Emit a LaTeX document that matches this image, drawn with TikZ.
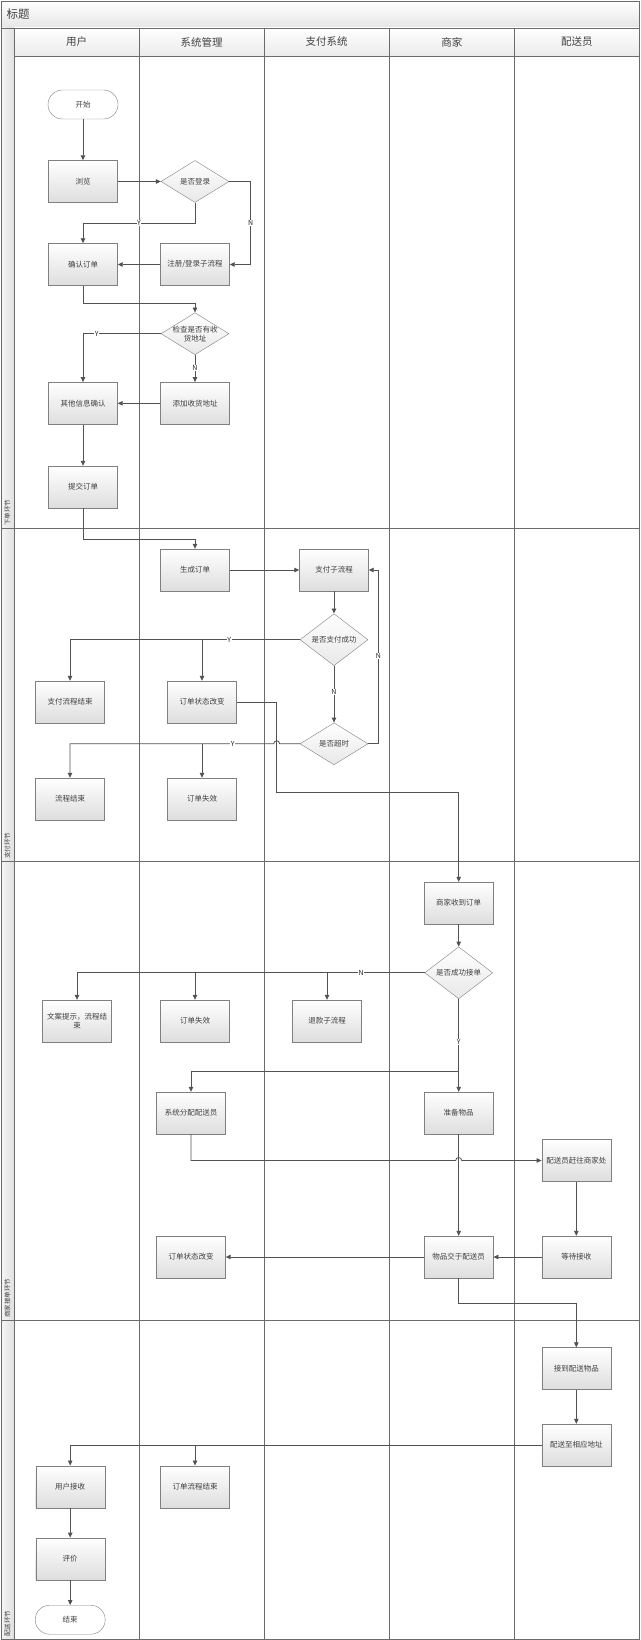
\documentclass[tikz,border=0pt]{standalone}
\usepackage{fontspec}
\setmainfont{Noto Sans CJK SC}
\usetikzlibrary{shapes.geometric,shadows,arrows.meta}

\begin{document}
\begin{tikzpicture}
[x=1pt, y=-1pt,
 every node/.style = {text=textcolor},
 box/.style      = {draw=boxcolor, top color=white, bottom color=fillcolor,
   minimum width=69pt, minimum height=42pt, inner sep=1pt, align=center,
   font=\fontsize{7.5}{9.5}\selectfont,
   drop shadow={shadow xshift=.8pt, shadow yshift=-.8pt, opacity=.25}},
 decide/.style   = {diamond, draw=boxcolor, top color=white, bottom color=diamcolor,
   minimum width=68pt, minimum height=42pt, inner sep=0pt, align=center,
   font=\fontsize{7.5}{9}\selectfont},
 terminal/.style = {draw=boxcolor, rounded corners=14.5pt, fill=white,
   minimum width=70pt, minimum height=29pt, font=\fontsize{7.5}{9}\selectfont},
 flow/.style     = {draw=linecolor, line width=.8pt, -{Triangle[length=5pt,width=4.5pt]}},
 yn/.style       = {fill=white, inner sep=.5pt, text=black!85, font=\fontsize{7}{7}\selectfont},
 lane/.style     = {draw=framecolor, line width=.8pt},
 header/.style   = {font=\fontsize{10.5}{11}\selectfont},
 band/.style     = {rotate=90, anchor=west, inner sep=0pt, font=\fontsize{6.5}{7}\selectfont},
]

% Define colors
\colorlet{textcolor}{black!75}
\colorlet{boxcolor}{black!50}
\colorlet{fillcolor}{black!13}
\colorlet{diamcolor}{black!9}
\colorlet{linecolor}{black!68}
\colorlet{framecolor}{black!58}

\useasboundingbox (0,0) rectangle (640,1640);

%%%%%%%%%%% FRAME
\path[top color=white, bottom color=black!10] (1,1) rectangle (639,28);
\path[top color=white, bottom color=black!8] (14,28) rectangle (639,56);
\path[left color=black!4, right color=black!12] (1,28) rectangle (14,1639);

\draw[lane] (1,1) rectangle (639,1639);
\draw[lane] (1,28) -- (639,28);
\draw[lane] (14,56) -- (639,56);
\draw[lane] (14,28) -- (14,1639);
\draw[lane] (139,28) -- (139,1639);
\draw[lane] (264,28) -- (264,1639);
\draw[lane] (389,28) -- (389,1639);
\draw[lane] (514.6,28) -- (514.6,1639);
\draw[lane] (1,528) -- (639,528);
\draw[lane] (1,861) -- (639,861);
\draw[lane] (1,1320) -- (639,1320);

\node[anchor=west, font=\fontsize{11.5}{12}\selectfont] (title) at (3,14.5) {标题};
\node[header] (hdruser)  at (76.5,42) {用户};
\node[header] (hdrsys)   at (201.5,42) {系统管理};
\node[header] (hdrpay)   at (326.5,42) {支付系统};
\node[header] (hdrshop)  at (451.8,42) {商家};
\node[header] (hdrrider) at (576.8,42) {配送员};

\node[band] (bandorder) at (7.5,526)  {下单环节};
\node[band] (bandpay)   at (7.5,859)  {支付环节};
\node[band] (bandshop)  at (7.5,1318) {商家接单环节};
\node[band] (bandride)  at (7.5,1637) {配送环节};

%%%%%%%%%%% 下单环节
\node[terminal] (start)     at (83,104.5)  {开始};
\node[box]      (browse)    at (83,181.5)  {浏览};
\node[decide]   (login)     at (195,181.5) {是否登录};
\node[box]      (confirm)   at (83,264.5)  {确认订单};
\node[box]      (register)  at (195,264.5) {注册/登录子流程};
\node[decide, label={[align=center, font=\fontsize{7.5}{9}\selectfont, text=textcolor]center:检查是否有收\\货地址}]
                (addrcheck) at (195,333.7) {};
\node[box]      (other)     at (83,403.3)  {其他信息确认};
\node[box]      (addaddr)   at (195,403.3) {添加收货地址};
\node[box]      (submit)    at (83,487)    {提交订单};

%%%%%%%%%%% 支付环节
\node[box]    (genorder) at (195,570)   {生成订单};
\node[box]    (pay)      at (334,570)   {支付子流程};
\node[decide] (paycheck) at (334,639.7) {是否支付成功};
\node[box]    (payend)   at (70,702)    {支付流程结束};
\node[box]    (statechg) at (202,702)   {订单状态改变};
\node[decide] (timeout)  at (334,743.8) {是否超时};
\node[box]    (flowend)  at (70,799)    {流程结束};
\node[box]    (invalid)  at (202,799)   {订单失效};

%%%%%%%%%%% 商家接单环节
\node[box]    (recv)      at (458.7,903)   {商家收到订单};
\node[decide] (accept)    at (458.7,972.8) {是否成功接单};
\node[box]    (notice)    at (77,1021)     {文案提示，流程结\\束};
\node[box]    (invalid2)  at (195,1021)    {订单失效};
\node[box]    (refund)    at (327,1021)    {退款子流程};
\node[box]    (assign)    at (191,1113)    {系统分配配送员};
\node[box]    (prepare)   at (458.7,1113)  {准备物品};
\node[box]    (goshop)    at (576.3,1160.5) {配送员赶往商家处};
\node[box]    (wait)      at (576.3,1257)  {等待接收};
\node[box]    (handover)  at (458.7,1257)  {物品交于配送员};
\node[box]    (statechg2) at (191,1257)    {订单状态改变};

%%%%%%%%%%% 配送环节
\node[box]      (getgoods) at (576.3,1368.5) {接到配送物品};
\node[box]      (deliver)  at (576.3,1445)   {配送至相应地址};
\node[box]      (userrecv) at (70.2,1486.7)  {用户接收};
\node[box]      (orderend) at (195,1486.7)   {订单流程结束};
\node[box]      (review)   at (70.2,1558.8)  {评价};
\node[terminal] (finish)   at (70.2,1619.7)  {结束};

%%%%%%%%%%% CONNECTIONS
\newcommand{\hopover}{arc[start angle=0,end angle=180,radius=3pt]}
\newcommand{\hopback}{arc[start angle=180,end angle=0,radius=3pt]}

\draw[flow] (start) -- (browse);
\draw[flow] (browse) -- (login);
\draw[flow] (login.south) -- ++(0,21) -| (confirm.north);
\draw[flow] (login.east) -- ++(21,0) |- (register.east);
\draw[flow] (register) -- (confirm);
\draw[flow] (confirm.south) -- ++(0,18) -| (addrcheck.north);
\draw[flow] (addrcheck.west) -| (other.north);
\draw[flow] (addrcheck) -- (addaddr);
\draw[flow] (addaddr) -- (other);
\draw[flow] (other) -- (submit);
\draw[flow] (submit.south) -- ++(0,31) -| (genorder.north);

\draw[flow] (genorder) -- (pay);
\draw[flow] (pay) -- (paycheck);
\draw[flow] (paycheck.west) -| (payend.north);
\draw[flow] (statechg.north |- paycheck.west) -- (statechg.north);
\draw[flow] (paycheck) -- (timeout);
\draw[flow] (timeout.east) -- ++(10,0) |- (pay.east);
\coordinate (bend1) at (276.7,792.3);
\coordinate (hopA) at (bend1 |- timeout.west);
\draw[flow] (timeout.west) -- ([xshift=3pt]hopA) \hopover -| (flowend.north);
\draw[flow] (invalid.north |- timeout.west) -- (invalid.north);
\draw[flow] (statechg.east) -| (bend1) -| (recv.north);

\draw[flow] (recv) -- (accept);
\draw[flow] (accept.west) -| (notice.north);
\draw[flow] (invalid2.north |- accept.west) -- (invalid2.north);
\draw[flow] (refund.north |- accept.west) -- (refund.north);
\draw[flow] (accept) -- (prepare);
\coordinate (split) at ([yshift=20pt]prepare.north);
\draw[flow] (split) -| (assign.north);
\coordinate (hopB) at (prepare.south |- goshop.west);
\draw[flow] (assign.south) |- ([xshift=-3pt]hopB) \hopback -- (goshop.west);
\draw[flow] (prepare) -- (handover);
\draw[flow] (goshop) -- (wait);
\draw[flow] (wait) -- (handover);
\draw[flow] (handover) -- (statechg2);
\draw[flow] (handover.south) -- ++(0,25) -| (getgoods.north);

\draw[flow] (getgoods) -- (deliver);
\draw[flow] (deliver.west) -| (userrecv.north);
\draw[flow] (orderend.north |- deliver.west) -- (orderend.north);
\draw[flow] (userrecv) -- (review);
\draw[flow] (review) -- (finish);

%%%%%%%%%%% Y / N
\node[yn] (ylogin)  at (139,222.7)   {Y};
\node[yn] (nlogin)  at (250.7,222.7) {N};
\node[yn] (yaddr)   at (96.7,333.5)  {Y};
\node[yn] (naddr)   at (195,368)     {N};
\node[yn] (ypay)    at (229.3,639.7) {Y};
\node[yn] (npay)    at (334,691.7)   {N};
\node[yn] (nloop)   at (378.3,656.3) {N};
\node[yn] (ytime)   at (232.7,743.8) {Y};
\node[yn] (naccept) at (361.2,972.8) {N};
\node[yn] (yaccept) at (458.7,1042.3) {Y};

\end{tikzpicture}
\end{document}
